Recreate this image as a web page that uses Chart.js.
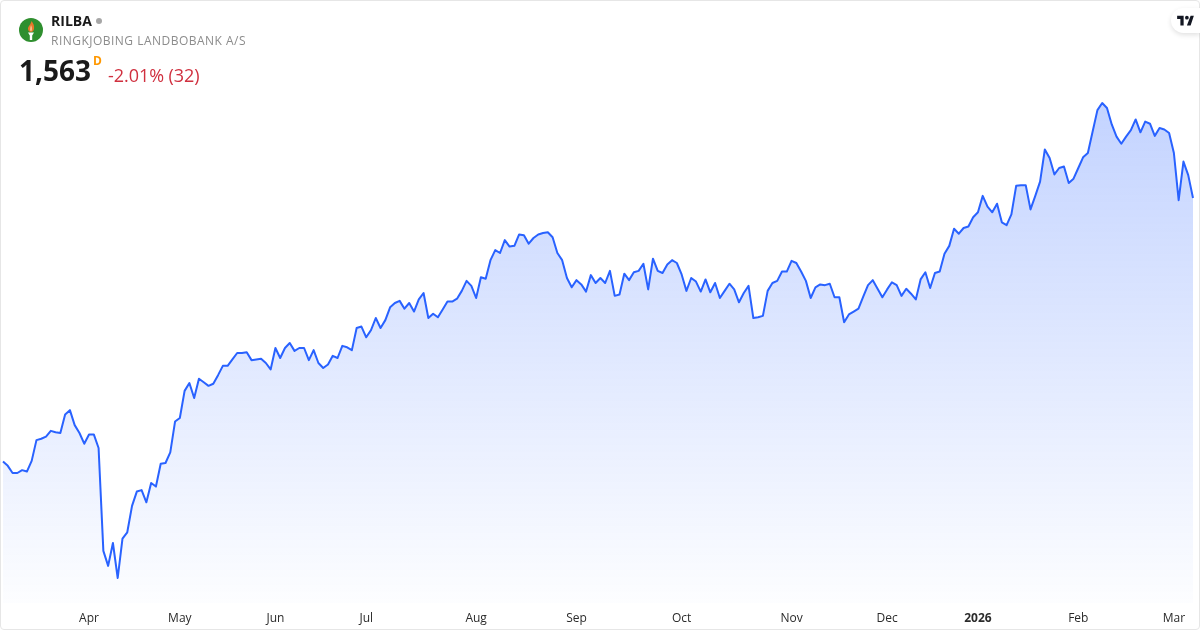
<!DOCTYPE html>
<html>
<head>
<meta charset="utf-8">
<style>
  html, body { margin:0; padding:0; background:#fff; }
  body { width:1200px; height:630px; overflow:hidden; position:relative; font-family:"Open Sans",sans-serif; }
  canvas { position:absolute; left:0; top:0; }
  .frame { position:absolute; left:0; top:0; width:1198px; height:628px; border:1px solid #e6e6e6; border-radius:4px; pointer-events:none; }
  .logo { position:absolute; left:19px; top:18px; }
  .sym { position:absolute; left:51px; top:12px; font-size:14px; line-height:18px; font-weight:700; color:#1a1a1a; }
  .dot { position:absolute; left:96px; top:18px; width:6px; height:6px; border-radius:50%; background:#a6a6a6; }
  .name { position:absolute; left:51px; top:32px; font-size:12px; line-height:18px; color:#8c8c8c; letter-spacing:.48px; white-space:nowrap; }
  .price { position:absolute; left:19px; top:51px; font-size:28px; line-height:38px; font-weight:700; color:#1a1a1a; }
  .res { position:absolute; left:93px; top:53px; font-size:12px; line-height:16px; font-weight:700; color:#ff9800; }
  .chg { position:absolute; left:108px; top:62px; font-size:18px; line-height:26px; color:#d0303f; white-space:nowrap; letter-spacing:-.05px; }
  .badge { position:absolute; left:1171px; top:8px; width:29px; height:25px; background:#fff; border-radius:13px 0 0 13px; box-shadow:0 2px 5px rgba(0,0,0,.12); }
  .badge svg { position:absolute; left:6px; top:6px; }
</style>
</head>
<body>
<canvas id="chart" width="1200" height="630"></canvas>
<div class="frame"></div>
<svg class="logo" width="24" height="24" viewBox="0 0 24 24">
  <circle cx="12" cy="12" r="12" fill="#2f8f2f"/>
  <path d="M12.500 3c2 2.500 3 5 2.500 8-.3 2-1.500 3-3 3s-2.800-1-3-3c-.2-2.500 2.800-4.500 3.500-8z" fill="#e8782a"/>
  <path d="M12 7c.8 1.500 1.200 3 1 4.500-.1 1-.5 1.500-1 1.500s-1-.5-1-1.500c0-1.500.6-3 1-4.500z" fill="#f6c08a"/>
  <path d="M9 14.500h6l-1.800 3V22h-2.400v-4.500z" fill="#fff"/>
</svg>
<div class="sym">RILBA</div>
<div class="dot"></div>
<div class="name">RINGKJOBING LANDBOBANK A/S</div>
<div class="price">1,563</div>
<div class="res">D</div>
<div class="chg">-2.01% (32)</div>
<div class="badge">
  <svg width="17" height="13" viewBox="0 0 36 28"><path d="M14 25H7V11H0V4h14zM29 25h-8l8-21h7z" fill="#131722"/><circle cx="21" cy="8" r="4" fill="#131722"/></svg>
</div>

<script src="https://cdn.jsdelivr.net/npm/chart.js@4/dist/chart.umd.min.js"></script>
<script>
// closing prices
const closes = [
  1194,1188,1178,1178,1182,1180,1195,1224,1226,1229,1237,1235,1234,1260,1266,1245,1234,1219,1232,1232,1213,
  1069,1048,1080,1031,1086,1095,1132,1152,1154,1137,1164,1159,1191,1192,1207,1250,1255,1293,1304,1283,1310,
  1305,1300,1303,1315,1328,1328,1337,1346,1346,1347,1336,1337,1338,1332,1323,1353,1339,1353,1360,1349,1353,
  1353,1336,1350,1332,1325,1330,1342,1339,1356,1354,1350,1381,1383,1368,1378,1395,1381,1392,1410,1416,1419,
  1408,1416,1404,1421,1430,1395,1401,1396,1407,1418,1418,1422,1433,1447,1440,1423,1452,1450,1476,1490,1486,
  1504,1495,1496,1512,1511,1499,1507,1512,1514,1515,1508,1486,1476,1451,1438,1448,1442,1432,1455,1444,1451,
  1444,1461,1426,1428,1457,1448,1459,1461,1471,1435,1478,1461,1458,1470,1476,1472,1456,1433,1451,1446,1432,
  1449,1431,1444,1423,1433,1443,1435,1417,1430,1440,1395,1396,1398,1433,1444,1447,1460,1460,1475,1472,1460,
  1447,1423,1438,1442,1441,1443,1424,1424,1389,1400,1404,1408,1425,1441,1448,1436,1424,1435,1445,1441,
  1426,1436,1429,1421,1449,1459,1437,1458,1460,1485,1496,1520,1513,1521,1523,1536,1543,1566,1551,1543,1555,
  1529,1525,1540,1580,1581,1581,1547,1566,1586,1631,1619,1596,1605,1607,1584,1590,1605,1620,1626,1656,1686,
  1696,1689,1666,1649,1639,1649,1658,1673,1655,1670,1667,1650,1661,1659,1654,1626,1560,1614,1595,1563
];
const monthLabels = ['Apr','May','Jun','Jul','Aug','Sep','Oct','Nov','Dec','2026','Feb','Mar'];
const monthStarts = [18,37,57,76,99,120,142,165,185,204,225,245];

const categories = closes.map((_, i) => {
  const k = monthStarts.indexOf(i);
  return k >= 0 ? monthLabels[k] : '';
});

function areaFill(ctx) {
  const area = ctx.chart.chartArea;
  if (!area) return 'rgba(41,98,255,0.1)';
  const g = ctx.chart.ctx.createLinearGradient(0, 103, 0, area.bottom);
  g.addColorStop(0, 'rgba(41,98,255,0.28)');
  g.addColorStop(1, 'rgba(41,98,255,0.01)');
  return g;
}

new Chart(document.getElementById('chart'), {
  type: 'line',
  data: {
    labels: categories,
    datasets: [{
      data: closes,
      borderColor: '#2962ff',
      borderWidth: 2,
      borderJoinStyle: 'round',
      backgroundColor: areaFill,
      fill: 'start',
      pointRadius: 0,
      tension: 0
    }]
  },
  options: {
    responsive: false,
    animation: false,
    layout: { padding: { left: 3, right: 7, top: 93, bottom: 0 } },
    plugins: { legend: { display: false }, tooltip: { enabled: false } },
    scales: {
      x: {
        grid: { display: false, drawTicks: false },
        border: { display: false },
        afterFit: s => { s.height = 27; s.paddingLeft = 0; s.paddingRight = 0; },
        ticks: {
          autoSkip: false,
          maxRotation: 0,
          padding: 8,
          color: '#2b2b2b',
          font: c => ({
            family: '"Open Sans"',
            size: 12,
            weight: c.tick && c.tick.label === '2026' ? '700' : '400'
          })
        }
      },
      y: { display: false, min: 996, max: 1710 }
    }
  }
});
</script>
</body>
</html>
